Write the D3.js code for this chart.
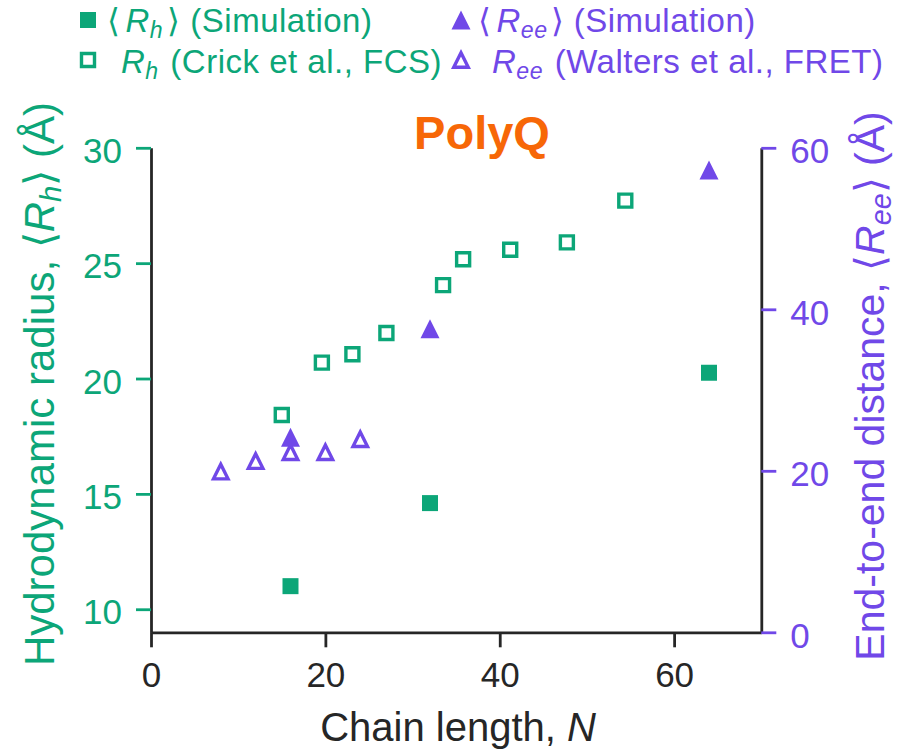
<!DOCTYPE html>
<html><head><meta charset="utf-8">
<script src="https://cdn.jsdelivr.net/npm/d3@7"></script>
<style>body{margin:0;background:#fff}</style>
</head><body>
<svg id="chart" width="899" height="752"></svg>
<script>
// ---- data ----
const simN = [16, 32, 64];
const simRh = [11.0, 14.6, 20.25];
const simRee = [24.15, 37.6, 57.25];
const crickN = [15, 19.6, 23.1, 27.0, 33.5, 35.8, 41.2, 47.7, 54.4];
const crickRh = [18.42, 20.69, 21.05, 21.97, 24.05, 25.17, 25.58, 25.9, 27.71];
const waltersN = [8, 12, 16, 20, 24];
const waltersRee = [19.9, 21.2, 22.3, 22.3, 23.9];
const xTicks = [0, 20, 40, 60];
const leftTicks = [10, 15, 20, 25, 30];
const rightTicks = [0, 20, 40, 60];
const titleText = "PolyQ";

// ---- style ----
const GREEN = "#0ca678", PURPLE = "#7048e8", ORANGE = "#f76707", INK = "#262626";
const FONT = "'Liberation Sans', Arial, sans-serif";

const svg = d3.select("#chart");
const x = d3.scaleLinear().domain([0, 70]).range([151, 761.3]);
const yL = d3.scaleLinear().domain([9, 30]).range([632.3, 147.8]);
const yR = d3.scaleLinear().domain([0, 60]).range([632.3, 147.8]);

const triUp = { draw(ctx, size) { const r = Math.sqrt(size) / 2; ctx.moveTo(0, -r); ctx.lineTo(r, r); ctx.lineTo(-r, r); ctx.closePath(); } };
const sqFilled = d3.symbol(d3.symbolSquare, 256);
const sqOpen = d3.symbol(d3.symbolSquare, 13 * 13);
const triFilled = d3.symbol(triUp, 19 * 19);
const triOpen = d3.symbol(triUp, 14.5 * 14.5);

function richText(sel, parts) {
  parts.forEach(p => {
    const t = sel.append("tspan").text(p.t);
    if (p.it) t.attr("font-style", "italic");
    if (p.sub) t.attr("font-size", "70%").attr("dy", "0.24em");
    if (p.unsub) t.attr("dy", "-0.17em");
    if (p.dx) t.attr("dx", p.dx);
  });
}

// ---- axes ----
function styleAxis(g, tickColor, textColor) {
  g.select(".domain").attr("stroke", INK).attr("stroke-width", 2.8);
  g.selectAll(".tick line").attr("stroke", tickColor).attr("stroke-width", 2.8);
  g.selectAll(".tick text").attr("fill", textColor).attr("font-size", 35).attr("font-family", FONT);
}
const gx = svg.append("g").attr("transform", "translate(0,632.3)")
  .call(d3.axisBottom(x).tickValues(xTicks).tickSize(15).tickSizeOuter(0).tickPadding(15));
styleAxis(gx, INK, INK);
const gl = svg.append("g").attr("transform", "translate(151,0)")
  .call(d3.axisLeft(yL).tickValues(leftTicks).tickSize(15).tickSizeOuter(0).tickPadding(14));
styleAxis(gl, GREEN, GREEN);
gl.selectAll(".tick text").attr("dy", "0.42em");
const gr = svg.append("g").attr("transform", "translate(761.3,0)")
  .call(d3.axisRight(yR).tickValues(rightTicks).tickSize(15).tickSizeOuter(0).tickPadding(14));
styleAxis(gr, PURPLE, PURPLE);
gr.selectAll(".tick text").attr("dy", "0.42em");

// axis labels
svg.append("text").attr("x", 458).attr("y", 741).attr("text-anchor", "middle")
  .attr("font-size", 40).attr("font-family", FONT).attr("fill", INK)
  .call(s => richText(s, [{ t: "Chain length, " }, { t: "N", it: true }]));
svg.append("text").attr("transform", "translate(54,384) rotate(-90)").attr("text-anchor", "middle")
  .attr("font-size", 42).attr("font-family", FONT).attr("fill", GREEN)
  .call(s => richText(s, [{ t: "Hydrodynamic radius, \u27E8" }, { t: "R", it: true }, { t: "h", it: true, sub: true }, { t: "\u27E9 (Å)", unsub: true }]));
svg.append("text").attr("transform", "translate(884,386) rotate(-90)").attr("text-anchor", "middle")
  .attr("font-size", 41).attr("font-family", FONT).attr("fill", PURPLE)
  .call(s => richText(s, [{ t: "End-to-end distance, \u27E8" }, { t: "R", it: true }, { t: "ee", it: true, sub: true }, { t: "\u27E9 (Å)", unsub: true }]));

// title
svg.append("text").attr("x", 482).attr("y", 149).attr("text-anchor", "middle")
  .attr("font-size", 47).attr("font-weight", "bold").attr("font-family", FONT).attr("fill", ORANGE)
  .text(titleText);

// ---- marks ----
const plot = svg.append("g");
plot.selectAll(".crick").data(crickN).join("path").attr("class", "crick")
  .attr("transform", (d, i) => `translate(${x(d)},${yL(crickRh[i])})`)
  .attr("d", sqOpen).attr("fill", "none").attr("stroke", GREEN).attr("stroke-width", 3.4);
plot.selectAll(".walters").data(waltersN).join("path").attr("class", "walters")
  .attr("transform", (d, i) => `translate(${x(d)},${yR(waltersRee[i])})`)
  .attr("d", triOpen).attr("fill", "none").attr("stroke", PURPLE).attr("stroke-width", 3.4)
  .attr("stroke-linejoin", "miter");
plot.selectAll(".simRh").data(simN).join("path").attr("class", "simRh")
  .attr("transform", (d, i) => `translate(${x(d)},${yL(simRh[i])})`)
  .attr("d", sqFilled).attr("fill", GREEN);
plot.selectAll(".simRee").data(simN).join("path").attr("class", "simRee")
  .attr("transform", (d, i) => `translate(${x(d)},${yR(simRee[i])})`)
  .attr("d", triFilled).attr("fill", PURPLE);

// ---- legend ----
const legendItems = [
  { mx: 88, my: 20, tx: 107, ty: 32, sym: sqFilled, filled: true, color: GREEN,
    parts: [{ t: "\u27E8" }, { t: "R", it: true, dx: 5 }, { t: "h", it: true, sub: true }, { t: "\u27E9 (Simulation)", unsub: true, dx: 4 }] },
  { mx: 88, my: 60, tx: 107, ty: 73, sym: sqOpen, filled: false, color: GREEN,
    parts: [{ t: "R", it: true, dx: 14 }, { t: "h", it: true, sub: true }, { t: " (Crick et al., FCS)", unsub: true, dx: 2 }] },
  { mx: 461, my: 20, tx: 478, ty: 32, sym: triFilled, filled: true, color: PURPLE,
    parts: [{ t: "\u27E8" }, { t: "R", it: true, dx: 5 }, { t: "ee", it: true, sub: true }, { t: "\u27E9 (Simulation)", unsub: true, dx: 3 }] },
  { mx: 461, my: 60, tx: 478, ty: 73, sym: triOpen, filled: false, color: PURPLE,
    parts: [{ t: "R", it: true, dx: 14 }, { t: "ee", it: true, sub: true }, { t: " (Walters et al., FRET)", unsub: true, dx: 2 }] }
];
const lg = svg.append("g");
legendItems.forEach(it => {
  lg.append("path").attr("transform", `translate(${it.mx},${it.my})`).attr("d", it.sym)
    .attr("fill", it.filled ? it.color : "none").attr("stroke", it.filled ? "none" : it.color)
    .attr("stroke-width", 3.4);
  lg.append("text").attr("x", it.tx).attr("y", it.ty).attr("font-size", 33).attr("font-family", FONT)
    .attr("letter-spacing", 0.5)
    .attr("fill", it.color).attr("xml:space", "preserve").style("white-space", "pre")
    .call(s => richText(s, it.parts));
});
</script>
</body></html>
